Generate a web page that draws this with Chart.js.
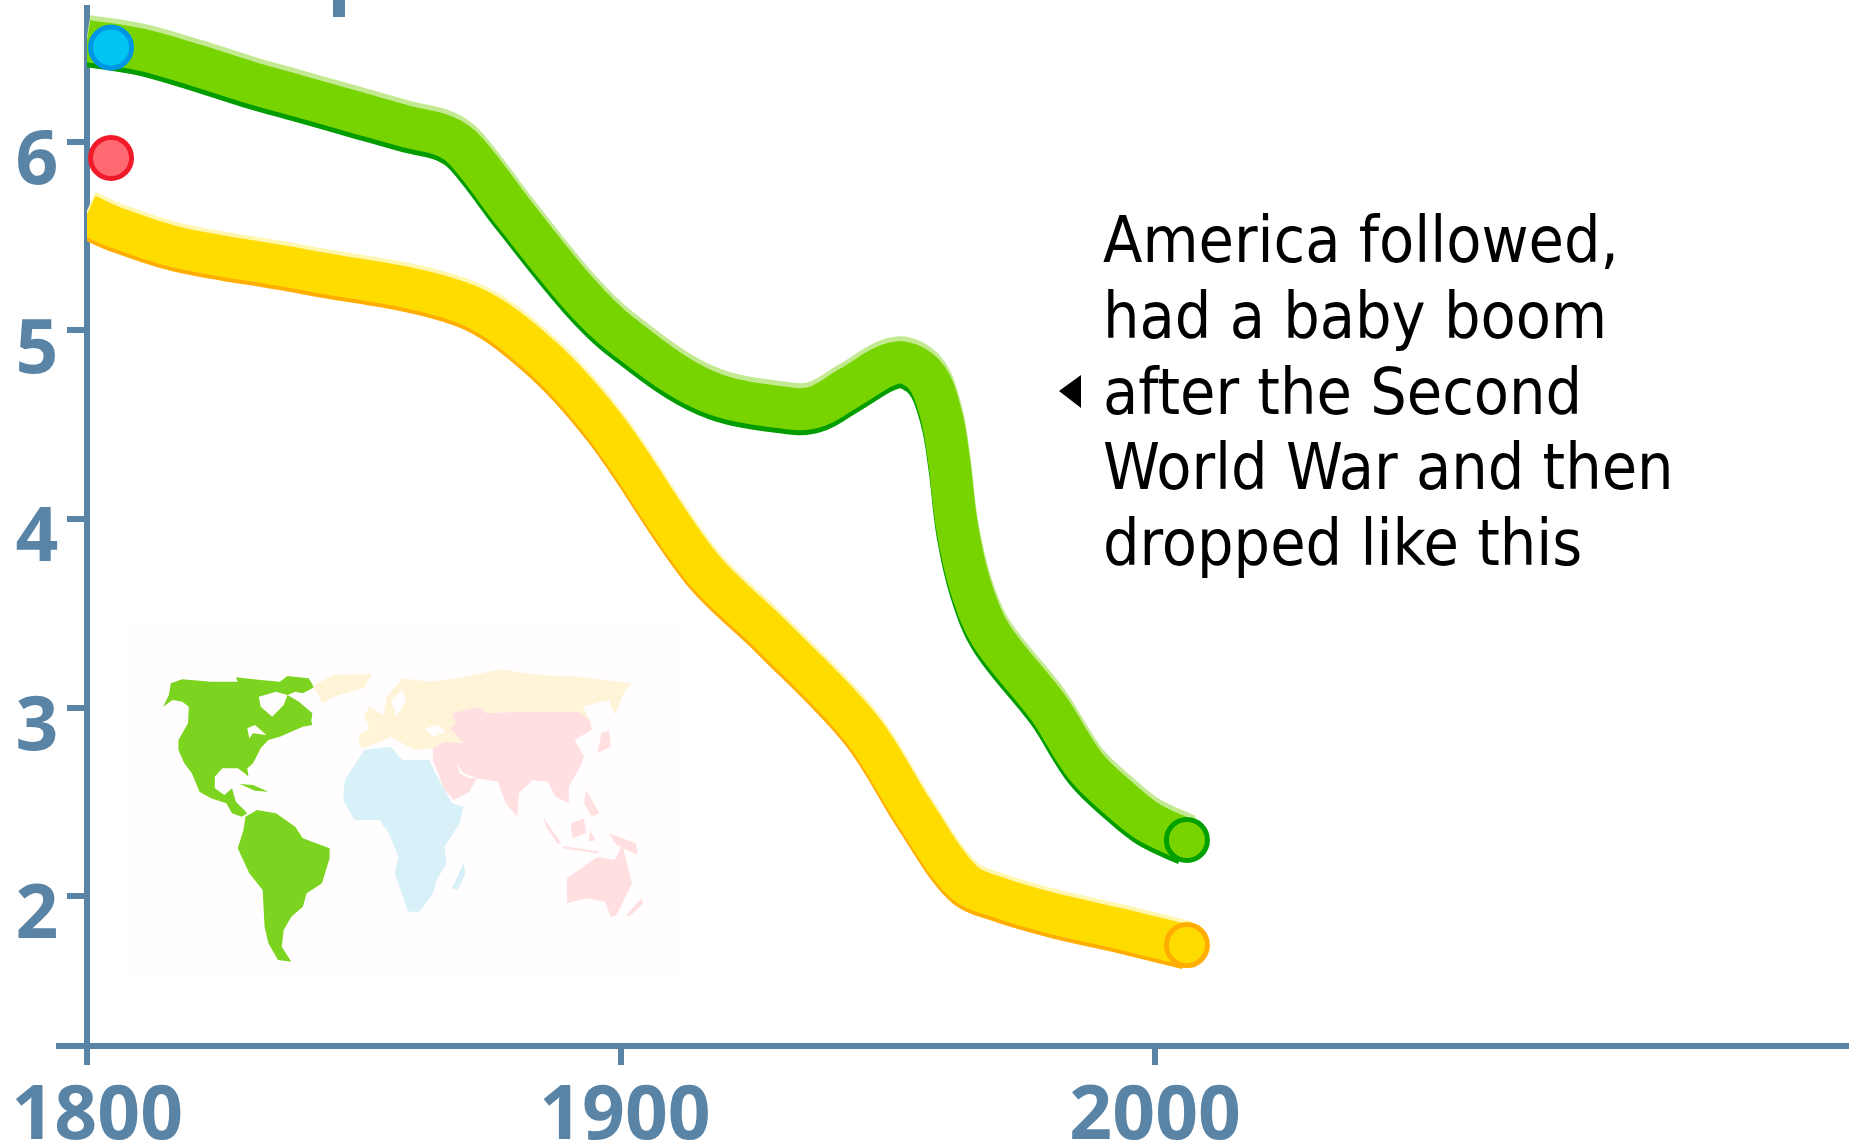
<!DOCTYPE html>
<html><head><meta charset="utf-8">
<style>html,body{margin:0;padding:0;background:#fff}canvas{display:block}</style>
<script src="https://cdn.jsdelivr.net/npm/chart.js@4"></script></head>
<body><canvas id="c" width="1849" height="1146" style="width:1849px;height:1146px"></canvas>
<script>
const greenYears=[1800,1810,1820,1830,1840,1850,1860,1867,1871,1880,1892,1900,1916,1932,1937,1943,1951.7,1957,1960,1961.5,1963,1965.5,1969.4,1980,1987,1994,1999,2006];
const greenValues=[6.535,6.49,6.41,6.32,6.24,6.16,6.08,6.03,5.95,5.62,5.20,4.98,4.68,4.585,4.60,4.70,4.83,4.76,4.55,4.3,3.95,3.64,3.38,3.0,2.69,2.50,2.39,2.297];
const yellowYears=[1800,1805,1817,1841,1870,1884,1897,1915,1928,1945,1955,1964,1971,1982,1993,2006];
const yellowValues=[5.615,5.55,5.44,5.32,5.15,4.89,4.49,3.75,3.39,2.89,2.44,2.08,1.99,1.90,1.83,1.74];
const blueDot=[[1804.5,6.50]];
const redDot=[[1804.5,5.915]];
const xTicks=[1800,1900,2000];
const yTicks=[2,3,4,5,6];
const annotation=["America followed,","had a baby boom","after the Second","World War and then","dropped like this"];
const AXIS='#5a84a6';
const toXY=(xs,ys)=>xs.map((x,i)=>({x,y:ys[i]}));
const pts=a=>a.map(p=>({x:p[0],y:p[1]}));
function band(xs,ys,color,width,shift,order){return{data:toXY(xs,ys),borderColor:color,borderWidth:width,pointRadius:0,tension:0.35,borderCapStyle:'butt',borderJoinStyle:'round',fill:false,shiftY:shift,order};}
function dot(data,fill,stroke){return{type:'scatter',data,backgroundColor:fill,borderColor:stroke,borderWidth:5,pointRadius:20.5,pointHoverRadius:20.5,clip:false,order:0};}
const Z=(p)=>[100+p[0]/2.613,600+p[1]/3];
const BG='#fffdfe';
const maps=[
['#7dd420',[[165,320],[180,285],[185,250],[215,238],[290,245],[360,245],[355,232],[420,240],[470,245],[490,228],[545,235],[560,262],[530,280],[510,275],[490,285],[520,305],[555,340],[552,362],[555,375],[530,380],[500,395],[470,410],[440,420],[420,445],[400,490],[385,505],[388,530],[378,520],[360,505],[320,505],[300,530],[300,565],[325,585],[345,565],[355,605],[385,640],[370,650],[345,640],[330,610],[290,595],[260,575],[240,520],[220,490],[205,450],[205,420],[230,370],[232,320],[215,305],[190,300]]],
['#7dd420',[[380,650],[410,630],[460,640],[510,680],[530,715],[600,745],[600,775],[580,850],[540,880],[530,920],[500,950],[480,990],[475,1040],[500,1085],[465,1080],[440,1030],[430,980],[425,870],[390,820],[360,745],[375,690]]],
['#7dd420',[[365,552],[400,555],[440,575],[405,572]]],
[BG,[[415,290],[460,275],[490,285],[480,315],[450,350],[420,320]]],
[BG,[[385,385],[405,375],[435,405],[400,400],[390,415]]],
[BG,[[222,490],[236,545],[228,535],[218,500]]],
['#fff4d8',[[555,258],[610,225],[710,222],[690,265],[610,290],[580,310],[570,280]]],
['#fff4d8',[[680,440],[675,405],[705,385],[690,345],[705,320],[740,345],[750,290],[790,235],[860,245],[950,232],[1045,208],[1150,225],[1250,230],[1390,250],[1370,275],[1345,345],[1330,300],[1260,320],[1280,360],[1250,335],[1100,335],[1010,340],[990,320],[920,340],[930,370],[915,385],[950,430],[900,425],[870,445],[820,450],[790,430],[760,410],[720,430],[690,445]]],
[BG,[[850,385],[880,375],[905,395],[870,410]]],
[BG,[[760,300],[790,270],[800,300],[775,350]]],
['#ffdfe0',[[920,340],[990,320],[1010,340],[1100,335],[1250,335],[1280,360],[1285,390],[1240,420],[1265,470],[1250,510],[1225,560],[1225,610],[1190,590],[1170,545],[1130,540],[1095,580],[1090,650],[1060,610],[1040,545],[985,535],[965,575],[925,600],[900,570],[870,480],[870,445],[900,425],[950,430],[915,385],[930,370]]],
[BG,[[932,490],[950,520],[985,535],[965,535],[940,520]]],
['#ffdfe0',[[1310,400],[1330,390],[1335,440],[1300,460]]],
['#ffdfe0',[[1160,655],[1205,730],[1195,730],[1165,680]]],
['#ffdfe0',[[1230,670],[1265,655],[1270,700],[1235,715]]],
['#ffdfe0',[[1270,570],[1305,640],[1285,650],[1265,610]]],
['#ffdfe0',[[1210,738],[1305,755],[1300,760],[1210,745]]],
['#ffdfe0',[[1330,700],[1400,730],[1405,765],[1350,735]]],
['#ffdfe0',[[1280,690],[1295,720],[1278,725]]],
['#ffdfe0',[[1220,835],[1300,770],[1345,780],[1365,735],[1390,850],[1350,945],[1335,950],[1320,905],[1270,895],[1220,910]]],
['#ffdfe0',[[1375,945],[1415,895],[1420,910],[1385,948]]],
['#d8f1f8',[[690,450],[760,440],[790,480],[860,480],[890,550],[920,610],[950,620],[940,670],[900,740],[905,790],[880,840],[870,880],[835,935],[805,935],[770,820],[780,770],[755,700],[730,660],[665,660],[635,600],[640,540]]],
['#d8f1f8',[[950,790],[955,820],[935,870],[920,865]]]
];
const deco={id:'deco',
 beforeDatasetsDraw(ch){const c=ch.ctx;c.save();
  c.fillStyle=BG;c.fillRect(129,622,553,358);
  for(const [col,poly] of maps){c.fillStyle=col;c.beginPath();poly.forEach((p,i)=>{const q=Z(p);i?c.lineTo(q[0],q[1]):c.moveTo(q[0],q[1]);});c.closePath();c.fill();}
  c.restore();},
 beforeDatasetDraw(ch,a){const s=ch.data.datasets[a.index].shiftY;if(s){ch.ctx.save();ch.ctx.translate(0,s);}},
 afterDatasetDraw(ch,a){const s=ch.data.datasets[a.index].shiftY;if(s){ch.ctx.restore();}},
 afterDraw(ch){const c=ch.ctx,b=ch.chartArea;c.save();
  c.fillStyle=AXIS;
  c.fillRect(56,b.bottom-3,b.left-56,6);
  c.fillRect(333,0,12,17);
  c.fillStyle='#000';c.font='64px "DejaVu Sans Condensed"';c.textAlign='left';c.textBaseline='alphabetic';
  annotation.forEach((t,i)=>c.fillText(t,1103,262+i*75.8));
  c.beginPath();c.moveTo(1081,375);c.lineTo(1081,408);c.lineTo(1059,391);c.closePath();c.fill();
  c.restore();}
};
const noPad=s=>{s.paddingTop=s.paddingBottom=s.paddingLeft=s.paddingRight=0;};
new Chart(document.getElementById('c'),{type:'line',
 data:{datasets:[
  band(greenYears,greenValues,'#c3ea92',42,-5,3),
  band(greenYears,greenValues,'#009c00',42,5,3),
  band(greenYears,greenValues,'#78d400',42,0,2),
  band(yellowYears,yellowValues,'#fff6b0',41,-4,3),
  band(yellowYears,yellowValues,'#ffae00',41,4,3),
  band(yellowYears,yellowValues,'#ffdc00',41,0,2),
  dot([{x:greenYears[greenYears.length-1],y:greenValues[greenValues.length-1]}],'#78d400','#00a000'),
  dot([{x:yellowYears[yellowYears.length-1],y:yellowValues[yellowValues.length-1]}],'#ffdc00','#ffae00'),
  dot(pts(blueDot),'#00c4f2','#0096e6'),
  dot(pts(redDot),'#ff6a72','#f01a28')
 ]},
 options:{responsive:false,animation:false,events:[],devicePixelRatio:1,
  layout:{autoPadding:false,padding:{top:8,right:0,left:0,bottom:0}},
  plugins:{legend:{display:false},tooltip:{enabled:false},title:{display:false}},
  scales:{
   x:{type:'linear',min:1800,max:2130,
    afterBuildTicks(s){s.ticks=xTicks.map(v=>({value:v}));},
    afterFit(s){s.height=100;noPad(s);},
    grid:{drawOnChartArea:false,color:AXIS,lineWidth:6,tickWidth:6,tickLength:19},
    border:{color:AXIS,width:6},
    ticks:{color:AXIS,font:{family:'"Noto Sans"',weight:'bold',size:75},padding:8,maxRotation:0,autoSkip:false,labelOffset:4,
     callback(v){return v===1800?'\u2009'+v:v===2000?v+'\u200a':''+v;}}},
   y:{type:'linear',min:1.205,max:6.71,
    afterBuildTicks(s){s.ticks=yTicks.map(v=>({value:v}));},
    afterFit(s){s.width=87;noPad(s);},
    grid:{drawOnChartArea:false,color:AXIS,lineWidth:6,tickWidth:6,tickLength:20},
    border:{color:AXIS,width:6},
    ticks:{color:AXIS,font:{family:'"Noto Sans"',weight:'bold',size:75},padding:8.5,labelOffset:21}}
  }},
 plugins:[deco]});
</script></body></html>
